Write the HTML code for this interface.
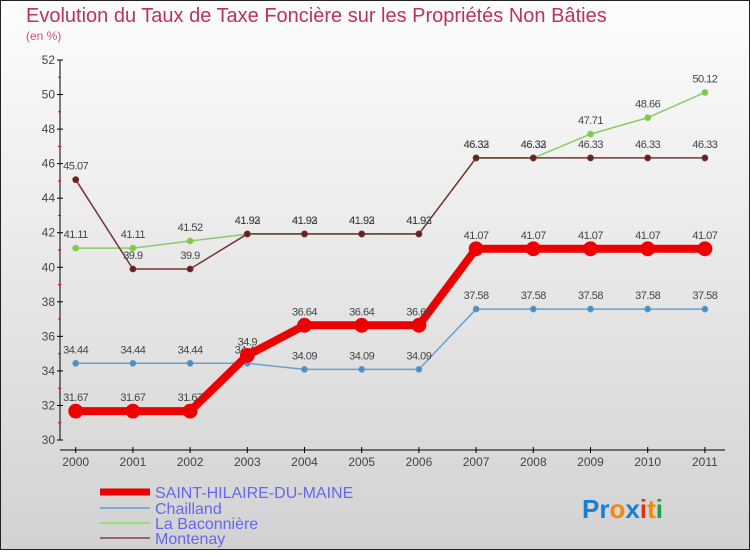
<!DOCTYPE html>
<html><head><meta charset="utf-8"><style>
body{margin:0;width:750px;height:550px;overflow:hidden;font-family:"Liberation Sans",sans-serif}
</style></head><body>
<svg width="750" height="550" xmlns="http://www.w3.org/2000/svg">
<defs><linearGradient id="bg" x1="0" y1="0" x2="0" y2="1"><stop offset="0" stop-color="#fdfdfd"/><stop offset="1" stop-color="#d2d2d2"/></linearGradient></defs>
<rect x="0.5" y="0.5" width="749" height="549" fill="url(#bg)" stroke="#222"/>
<text x="26" y="22" font-size="20" fill="#c0305a">Evolution du Taux de Taxe Foncière sur les Propriétés Non Bâties</text>
<text x="26" y="40" font-size="12" fill="#d05080">(en %)</text>
<g id="axes"></g><g id="series"></g>
<g>
<line x1="100" y1="492" x2="150" y2="492" stroke="#e00" stroke-width="7"/>
<text x="155" y="498" font-size="16" fill="#6666ee">SAINT-HILAIRE-DU-MAINE</text>
<line x1="100" y1="508" x2="150" y2="508" stroke="#7aaed0" stroke-width="2"/>
<text x="155" y="514" font-size="16" fill="#6666ee">Chailland</text>
<line x1="100" y1="523" x2="150" y2="523" stroke="#99dd77" stroke-width="2"/>
<text x="155" y="529" font-size="16" fill="#6666ee">La Baconnière</text>
<line x1="100" y1="538" x2="150" y2="538" stroke="#996666" stroke-width="2"/>
<text x="155" y="544" font-size="16" fill="#6666ee">Montenay</text>
</g>
<text x="582" y="518" font-size="26" font-weight="bold"><tspan fill="#1a7fd4">Pr</tspan><tspan fill="#f08a10">o</tspan><tspan fill="#1a7fd4">x</tspan><tspan fill="#e03010">i</tspan><tspan fill="#f08a10">t</tspan><tspan fill="#20a040">i</tspan></text>
</svg>
<script>
const years=[2000,2001,2002,2003,2004,2005,2006,2007,2008,2009,2010,2011];
const yTicks=[30,32,34,36,38,40,42,44,46,48,50,52];
const saint=[31.67,31.67,31.67,34.9,36.64,36.64,36.64,41.07,41.07,41.07,41.07,41.07];
const chailland=[34.44,34.44,34.44,34.44,34.09,34.09,34.09,37.58,37.58,37.58,37.58,37.58];
const bacon=[41.11,41.11,41.52,41.92,41.92,41.92,41.92,46.32,46.32,47.71,48.66,50.12];
const monten=[45.07,39.9,39.9,41.93,41.93,41.93,41.93,46.33,46.33,46.33,46.33,46.33];
const NS="http://www.w3.org/2000/svg";
const X=i=>75.7+i*57.2, Y=v=>440-(v-30)*(380/22);
function mk(t,a,p){const e=document.createElementNS(NS,t);for(const k in a)e.setAttribute(k,a[k]);p.appendChild(e);return e;}
const ax=document.getElementById('axes');
const yl=mk('line',{x1:60,y1:60,x2:60,y2:440,stroke:'#000'},ax);


const xl=mk('line',{x1:60,y1:450,x2:725,y2:450,stroke:'#000'},ax);


yTicks.forEach((v,i)=>{mk('line',{x1:57,x2:63,y1:Y(v),y2:Y(v),stroke:'#000'},ax);
 if(i<yTicks.length-1)mk('line',{x1:58,x2:61,y1:Y(v+1),y2:Y(v+1),stroke:'#e00'},ax);
 const t=mk('text',{x:55,y:Y(v)+4,'font-size':12,'text-anchor':'end',fill:'#444'},ax);t.textContent=v;
 
 });
years.forEach((y,i)=>{mk('line',{x1:X(i),x2:X(i),y1:447,y2:453,stroke:'#000'},ax);
 const t=mk('text',{x:X(i),y:466,'font-size':12,'text-anchor':'middle',fill:'#444'},ax);t.textContent=y;
 
 });
const sg=document.getElementById('series');
function series(d,col,w,r,name,dot){
 const g=mk('g',{},sg);
 
 
 mk('polyline',{points:d.map((v,i)=>X(i)+','+Y(v)).join(' '),fill:'none',stroke:col,'stroke-width':w,'stroke-linejoin':'round'},g);
 d.forEach((v,i)=>{const c=mk('circle',{cx:X(i),cy:Y(v),r:r,fill:dot,stroke:col,'stroke-width':0.8},g);
  
  
  const t=mk('text',{x:X(i),y:Y(v)-10,'font-size':11,'text-anchor':'middle',fill:'#444','letter-spacing':'-0.5'},g);t.textContent=v;});
}
series(chailland,'#6aa0cc',1.5,3,'series-chailland','#4a8ec8');
series(bacon,'#88cc66',1.5,3,'series-baconniere','#7ccc44');
series(monten,'#773333',1.5,3,'series-montenay','#662222');
series(saint,'#ee0000',8,7,'series-saint-hilaire','#ee0000');
</script>
</body></html>
